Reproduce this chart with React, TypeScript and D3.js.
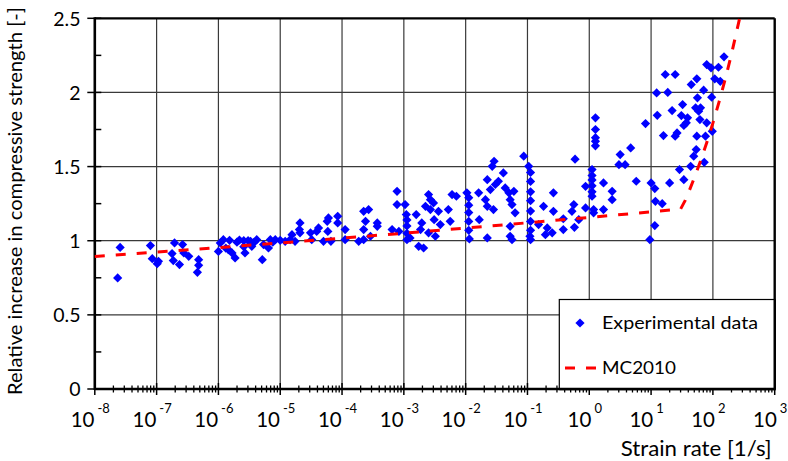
import React from "react";
import * as d3 from "d3";

// Experimental data: [log10(strain rate), relative increase]
const dataDecadeM8: [number, number][] = [[-7.59, 0.955], [-7.63, 0.749]];
const dataDecadeM7: [number, number][] = [
  [-7.1, 0.967], [-7.07, 0.879], [-6.99, 0.845], [-6.97, 0.861], [-6.71, 0.985], [-6.75, 0.913],
  [-6.73, 0.866], [-6.63, 0.839], [-6.58, 0.974], [-6.56, 0.918], [-6.48, 0.895], [-6.32, 0.872],
  [-6.32, 0.834], [-6.34, 0.787],
];
const dataDecadeM6: [number, number][] = [
  [-6.0, 0.928], [-5.97, 0.985], [-5.92, 1.007], [-5.82, 1.003], [-5.84, 0.94], [-5.78, 0.918],
  [-5.73, 0.884], [-5.59, 1.0], [-5.59, 0.96], [-5.57, 0.918], [-5.48, 0.996], [-5.46, 0.962],
  [-5.38, 1.007], [-5.29, 0.872], [-5.27, 0.974], [-5.19, 0.951], [-5.16, 1.007], [-5.08, 1.007],
  [-5.66, 1.005], [-5.52, 1.0], [-5.42, 0.99], [-5.12, 0.99], [-5.7, 0.99], [-5.88, 0.95],
];
const dataDecadeM5: [number, number][] = [
  [-5.0, 1.003], [-4.92, 0.996], [-4.84, 1.007], [-4.81, 1.041], [-4.68, 1.12], [-4.69, 1.075],
  [-4.68, 1.053], [-4.76, 0.996], [-4.51, 1.053], [-4.49, 1.007], [-4.41, 1.063], [-4.38, 1.086],
  [-4.3, 0.996], [-4.24, 1.131], [-4.22, 1.154], [-4.23, 1.063], [-4.07, 1.12], [-4.07, 1.165],
  [-4.18, 0.996],
];
const dataDecadeM4: [number, number][] = [
  [-3.95, 1.075], [-3.95, 1.007], [-3.73, 0.996], [-3.65, 1.198], [-3.57, 1.21], [-3.62, 1.131],
  [-3.65, 1.075], [-3.65, 1.007], [-3.54, 1.03], [-3.43, 1.12], [-3.43, 1.097], [-3.19, 1.075],
  [-3.11, 1.333], [-3.08, 1.063], [-3.11, 1.244],
];
const dataDecadeM3: [number, number][] = [
  [-2.98, 1.244], [-2.96, 1.176], [-2.95, 1.14], [-2.95, 1.1], [-2.95, 1.05], [-2.95, 1.007],
  [-2.9, 1.019], [-2.8, 1.176], [-2.76, 0.962], [-2.68, 0.951], [-2.73, 1.075], [-2.71, 1.12],
  [-2.65, 1.232], [-2.6, 1.311], [-2.57, 1.277], [-2.57, 1.21], [-2.6, 1.053], [-2.52, 1.255],
  [-2.51, 1.142], [-2.49, 1.03], [-2.44, 1.198], [-2.41, 1.109], [-2.28, 1.21], [-2.25, 1.131],
  [-2.22, 1.311], [-2.15, 1.3],
];
const dataDecadeM2: [number, number][] = [
  [-1.98, 1.323], [-1.95, 1.29], [-1.95, 1.24], [-1.95, 1.19], [-1.95, 1.13], [-1.95, 1.07],
  [-1.94, 1.012], [-1.79, 1.323], [-1.78, 1.142], [-1.68, 1.277], [-1.65, 1.412], [-1.65, 1.232],
  [-1.65, 1.019], [-1.6, 1.345], [-1.57, 1.502], [-1.54, 1.536], [-1.52, 1.379], [-1.47, 1.401],
  [-1.55, 1.21], [-1.39, 1.457], [-1.36, 1.356], [-1.3, 1.323], [-1.28, 1.277], [-1.25, 1.244],
  [-1.22, 1.333], [-1.2, 1.188], [-1.28, 1.097], [-1.28, 1.03], [-1.25, 1.007], [-1.06, 1.57],
];
const dataDecadeM1: [number, number][] = [
  [-0.98, 1.502], [-0.95, 1.46], [-0.95, 1.4], [-0.95, 1.33], [-0.95, 1.27], [-0.95, 1.2],
  [-0.95, 1.13], [-0.95, 1.07], [-0.95, 1.007], [-0.96, 1.03], [-0.82, 1.109], [-0.74, 1.232],
  [-0.58, 1.323], [-0.58, 1.198], [-0.68, 1.086], [-0.6, 1.053], [-0.71, 1.041], [-0.42, 1.148],
  [-0.42, 1.075], [-0.28, 1.198], [-0.23, 1.55], [-0.17, 1.142], [-0.25, 1.244], [-0.24, 1.09],
  [-0.06, 1.367], [-0.06, 1.221],
];
const dataDecadeP0: [number, number][] = [
  [0.045, 1.48], [0.045, 1.44], [0.045, 1.41], [0.045, 1.37], [0.045, 1.33], [0.045, 1.3],
  [0.07, 1.21], [0.07, 1.188], [0.1, 1.829], [0.1, 1.75], [0.1, 1.695], [0.1, 1.67], [0.1, 1.64],
  [0.23, 1.39], [0.23, 1.21], [0.37, 1.333], [0.37, 1.277], [0.5, 1.581], [0.48, 1.513],
  [0.58, 1.513], [0.67, 1.626], [0.76, 1.401], [0.91, 1.79], [0.98, 1.007],
];
const dataDecadeP1: [number, number][] = [
  [1.0, 1.39], [1.06, 1.352], [1.07, 1.266], [1.06, 1.102], [1.09, 1.997], [1.1, 1.846],
  [1.18, 1.25], [1.2, 1.709], [1.23, 2.121], [1.27, 2.0], [1.3, 1.39], [1.34, 1.878],
  [1.39, 2.121], [1.39, 1.705], [1.42, 1.727], [1.46, 1.48], [1.49, 1.844], [1.51, 1.918],
  [1.53, 1.412], [1.53, 1.777], [1.57, 1.795], [1.59, 1.829], [1.64, 1.502], [1.65, 2.053],
  [1.69, 1.57], [1.72, 1.896], [1.73, 1.615], [1.74, 2.092], [1.74, 1.705], [1.75, 1.964],
  [1.77, 1.873], [1.79, 1.817], [1.8, 1.896], [1.85, 2.015], [1.86, 1.529], [1.88, 1.705],
  [1.9, 1.795], [1.9, 2.188], [1.97, 2.166], [1.99, 1.738], [1.98, 1.968],
];
const dataDecadeP2: [number, number][] = [[2.03, 2.092], [2.09, 2.17], [2.12, 2.075], [2.18, 2.24]];

// MC2010 curve: [log10(strain rate), relative increase]
const mc2010: [number, number][] = [
  [-8, 0.894], [-6, 0.954], [-4, 1.017], [-2, 1.085], [0, 1.157], [1, 1.195], [1.477, 1.213],
  [1.55, 1.27], [1.6, 1.319], [1.7, 1.424], [1.8, 1.538], [1.9, 1.661], [2.0, 1.793],
  [2.1, 1.936], [2.2, 2.09], [2.3, 2.257], [2.433, 2.5],
];

const xExponents = [-8, -7, -6, -5, -4, -3, -2, -1, 0, 1, 2, 3];
const yTicks = [0, 0.5, 1, 1.5, 2, 2.5];
const yMinorTicks = [0.25, 0.75, 1.25, 1.75, 2.25];

const FONT = "Lato, 'Open Sans', sans-serif";

export default function App() {
  const W = 788, H = 461;
  const left = 94.8, right = 774.7, top = 18.3, bottom = 389;
  const x = d3.scaleLog().domain([1e-8, 1e3]).range([left, right]);
  const y = d3.scaleLinear().domain([0, 2.5]).range([bottom, top]);

  const allData = [
    ...dataDecadeM8, ...dataDecadeM7, ...dataDecadeM6, ...dataDecadeM5, ...dataDecadeM4,
    ...dataDecadeM3, ...dataDecadeM2, ...dataDecadeM1, ...dataDecadeP0, ...dataDecadeP1, ...dataDecadeP2,
  ];

  const minorX: number[] = [];
  for (let e = -8; e < 3; e++) for (let m = 2; m <= 9; m++) minorX.push(m * Math.pow(10, e));

  const line = d3.line<[number, number]>()
    .x((d) => x(Math.pow(10, d[0])))
    .y((d) => y(d[1]));

  const diamond = (s: number) => `M0,${-s}L${s},0L0,${s}L${-s},0Z`;

  const legX = 559.3, legY = 299.5;

  return (
    <svg width={W} height={H} style={{ position: "absolute", left: 0, top: 0, background: "#fff" }}
      fontFamily={FONT}>
      <rect x={0} y={0} width={W} height={H} fill="#fff" />
      {/* grid */}
      {xExponents.slice(1, -1).map((e) => (
        <line key={"gx" + e} x1={x(Math.pow(10, e))} x2={x(Math.pow(10, e))} y1={top} y2={bottom}
          stroke="#3a3a3a" strokeWidth={1.2} />
      ))}
      {yTicks.slice(1, -1).map((v) => (
        <line key={"gy" + v} x1={left} x2={right} y1={y(v)} y2={y(v)} stroke="#3a3a3a" strokeWidth={1.2} />
      ))}
      {/* x ticks */}
      {minorX.map((v, i) => (
        <line key={"mx" + i} x1={x(v)} x2={x(v)} y1={bottom - 3.5} y2={bottom + 3.5} stroke="#000" strokeWidth={1.3} />
      ))}
      {xExponents.map((e) => (
        <line key={"Mx" + e} x1={x(Math.pow(10, e))} x2={x(Math.pow(10, e))} y1={bottom - 6} y2={bottom + 6}
          stroke="#000" strokeWidth={1.5} />
      ))}
      {/* y ticks */}
      {yMinorTicks.map((v) => (
        <line key={"my" + v} x1={left} x2={left + 6.5} y1={y(v)} y2={y(v)} stroke="#000" strokeWidth={1.5} />
      ))}
      {yTicks.map((v) => (
        <line key={"My" + v} x1={left - 7.5} x2={left + 6.5} y1={y(v)} y2={y(v)} stroke="#000" strokeWidth={1.5} />
      ))}
      {/* frame */}
      <line x1={left} x2={right} y1={top} y2={top} stroke="#000" strokeWidth={2.2} />
      <line x1={right} x2={right} y1={top} y2={bottom} stroke="#000" strokeWidth={2.4} />
      <line x1={left} x2={right + 1} y1={bottom} y2={bottom} stroke="#000" strokeWidth={2.6} />
      <line x1={left} x2={left} y1={top - 1} y2={bottom + 1} stroke="#000" strokeWidth={2.6} />
      {/* data */}
      {allData.map((d, i) => (
        <path key={"p" + i} d={diamond(4.6)} transform={`translate(${x(Math.pow(10, d[0]))},${y(d[1])})`}
          fill="#0000ff" />
      ))}
      {/* MC2010 */}
      <path d={line(mc2010) || ""} fill="none" stroke="#ff0000" strokeWidth={3} strokeDasharray="10,11" />
      {/* y tick labels */}
      {yTicks.map((v) => (
        <text key={"ly" + v} x={80.5} y={y(v) + 7.2} textAnchor="end" fontSize={19.5} fill="#000">
          {String(v)}
        </text>
      ))}
      {/* x tick labels */}
      {xExponents.map((e) => (
        <text key={"lx" + e} x={x(Math.pow(10, e)) - 4.5} y={426.7} textAnchor="middle" fontSize={20.5} fill="#000">
          <tspan>10</tspan>
          <tspan dx={3} dy={-13.5} fontSize={13}>{String(e)}</tspan>
        </text>
      ))}
      {/* axis titles */}
      <text x={620.7} y={456.3} fontSize={20.5} fill="#000" textLength={151} lengthAdjust="spacingAndGlyphs">
        Strain rate [1/s]
      </text>
      <text transform="translate(22,201) rotate(-90)" textAnchor="middle" fontSize={20} fill="#000"
        textLength={388} lengthAdjust="spacingAndGlyphs">
        Relative increase in compressive strength [-]
      </text>
      {/* legend */}
      <rect x={legX} y={legY} width={right - legX} height={bottom - legY} fill="#fff" stroke="#000" strokeWidth={1.2} />
      <line x1={right} x2={right} y1={legY} y2={bottom} stroke="#000" strokeWidth={2.4} />
      <line x1={legX} x2={right + 1} y1={bottom} y2={bottom} stroke="#000" strokeWidth={2.6} />
      <path d={diamond(4.6)} transform={`translate(580,323)`} fill="#0000ff" />
      <text x={602} y={329} fontSize={17} fill="#000" textLength={156} lengthAdjust="spacingAndGlyphs">
        Experimental data
      </text>
      <line x1={565} x2={596} y1={368} y2={368} stroke="#ff0000" strokeWidth={3} strokeDasharray="10,11" />
      <text x={602} y={373.5} fontSize={17} fill="#000" textLength={74} lengthAdjust="spacingAndGlyphs">
        MC2010
      </text>
    </svg>
  );
}
